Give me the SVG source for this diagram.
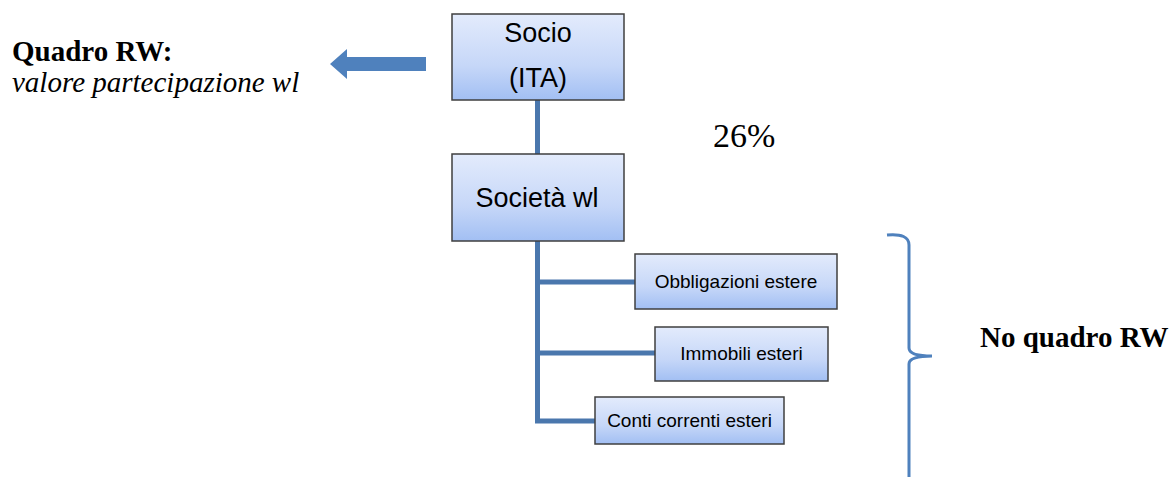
<svg xmlns="http://www.w3.org/2000/svg" width="1175" height="477" viewBox="0 0 1175 477">
<defs>
<linearGradient id="g" x1="0" y1="0" x2="0" y2="1">
<stop offset="0" stop-color="#e3ebfc"/>
<stop offset="0.6" stop-color="#c6d7f8"/>
<stop offset="1" stop-color="#a2bff3"/>
</linearGradient>
</defs>
<style>
.box{fill:url(#g);stroke:#3f3f3f;stroke-width:1.5}
.big{font-family:"Liberation Sans",Arial,sans-serif;font-size:27px;fill:#000;text-anchor:middle}
.sm{font-family:"Liberation Sans",Arial,sans-serif;font-size:19px;fill:#000;text-anchor:middle}
.con{stroke:#4a77ad;stroke-width:5;fill:none}
.tm{font-family:"Liberation Serif","Times New Roman",serif;fill:#000}
</style>
<g id="connectors">
<line class="con" x1="537.5" y1="100" x2="537.5" y2="154"/>
<polyline class="con" points="537.5,241 537.5,421 595,421"/>
<line class="con" x1="537.5" y1="282" x2="635" y2="282"/>
<line class="con" x1="537.5" y1="353" x2="655" y2="353"/>
<polygon points="426,57 347,57 347,49 330,64 347,79 347,71 426,71" fill="#4f81bd"/>
<path d="M887,235 Q909,233 909,245 L909,348 Q909,356 932,356 Q909,356 909,364 L909,477" fill="none" stroke="#4f81bd" stroke-width="3"/>
</g>
<g id="socio">
<rect class="box" x="452" y="14" width="172" height="86"/>
<text class="big" x="538" y="42">Socio</text>
<text class="big" x="538" y="87">(ITA)</text>
</g>
<g id="societa">
<rect class="box" x="452" y="154" width="172" height="87"/>
<text class="big" x="537" y="207">Società wl</text>
</g>
<g id="obbligazioni">
<rect class="box" x="635" y="254" width="202" height="55"/>
<text class="sm" x="736" y="288">Obbligazioni estere</text>
</g>
<g id="immobili">
<rect class="box" x="655" y="327" width="173" height="54"/>
<text class="sm" x="741.5" y="360">Immobili esteri</text>
</g>
<g id="conti">
<rect class="box" x="595" y="397" width="189" height="47"/>
<text class="sm" x="689.5" y="427">Conti correnti esteri</text>
</g>
<g id="labels">
<text class="tm" x="12" y="61" font-size="29" font-weight="bold">Quadro RW:</text>
<text class="tm" x="12" y="92" font-size="29" font-style="italic">valore partecipazione wl</text>
<text class="tm" x="713" y="147" font-size="34">26%</text>
<text class="tm" x="980" y="347" font-size="29" font-weight="bold">No quadro RW</text>
</g>
</svg>
